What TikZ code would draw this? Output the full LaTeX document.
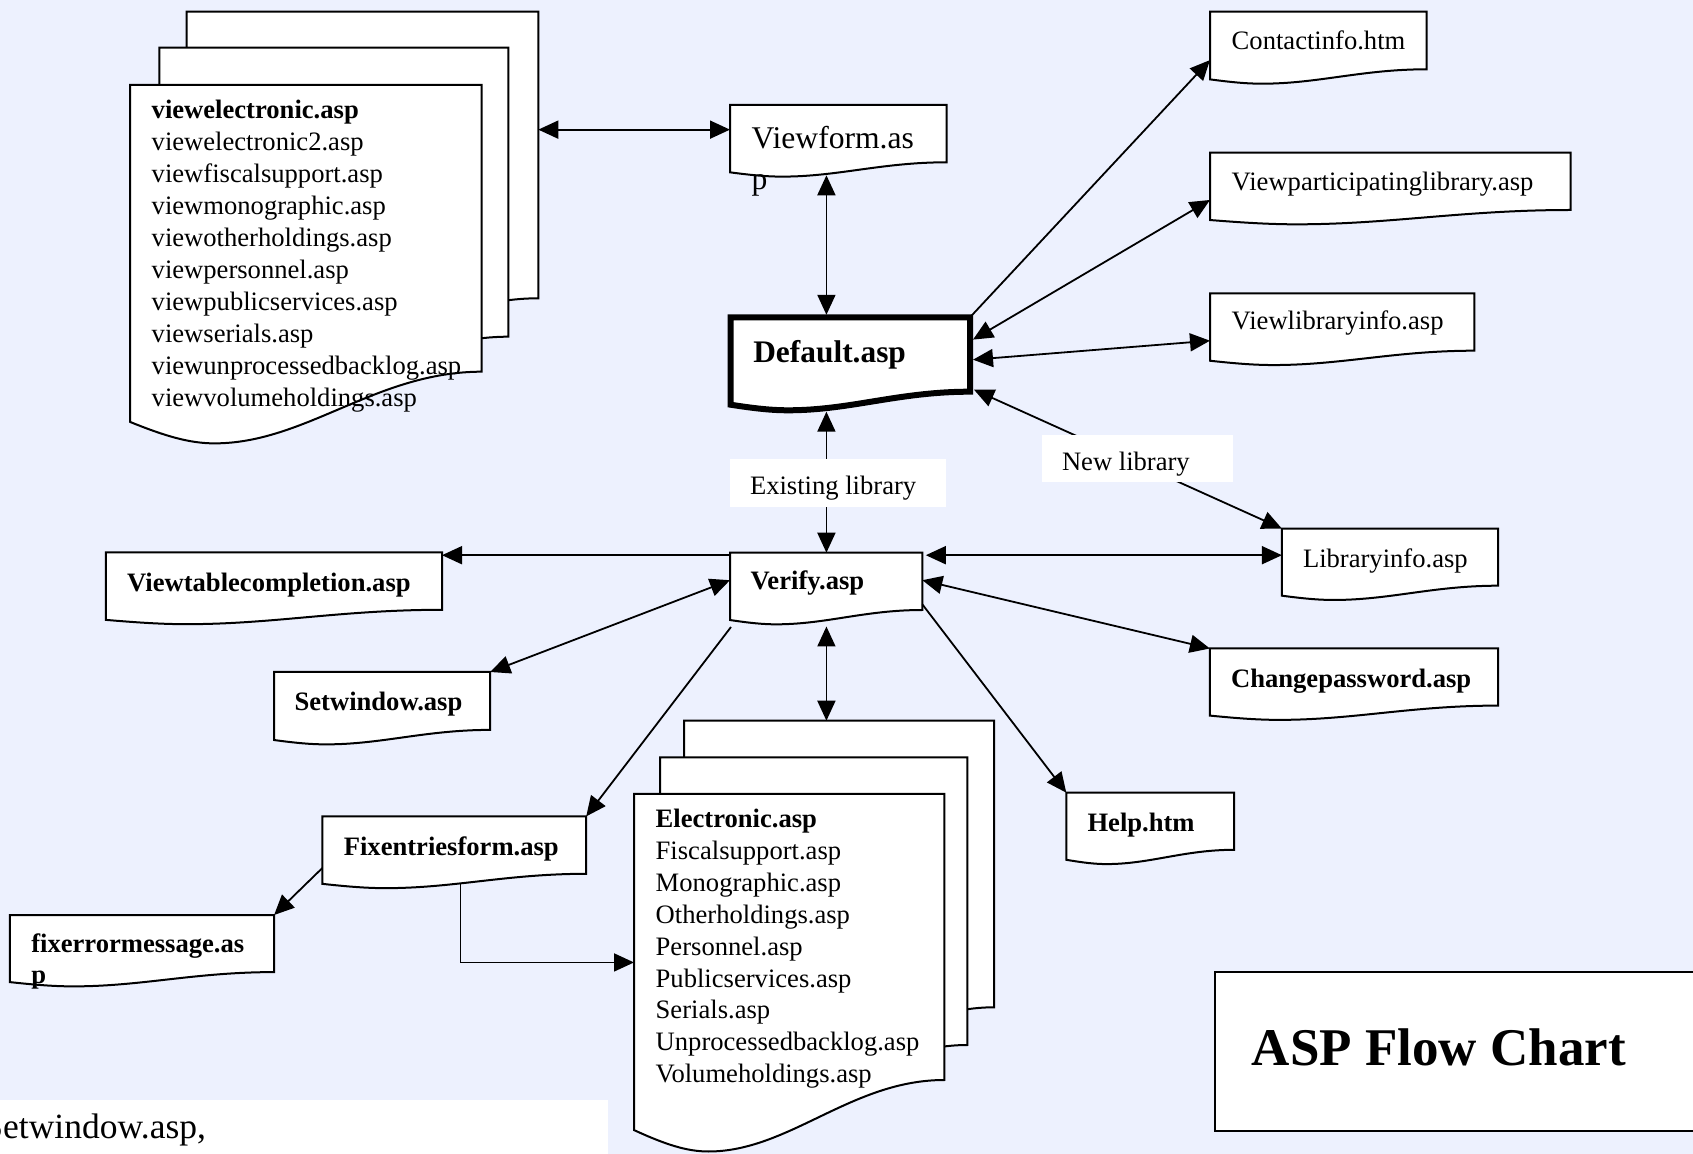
\documentclass[tikz,border=0pt]{standalone}
\usepackage{fontspec}
\setmainfont{Liberation Serif}
\usetikzlibrary{arrows.meta,calc}
\definecolor{bgblue}{RGB}{237,241,254}
\tikzset{
  docline/.style={draw=black, line width=1pt, fill=white, line join=miter},
  thickdoc/.style={line width=3pt},
  tipA/.tip={Triangle[length=10pt,width=9pt]},
  conn/.style={line width=0.9pt, -{tipA}},
  bidir/.style={line width=0.9pt, {tipA}-{tipA}},
  txt/.style={anchor=base west, inner sep=0pt, outer sep=0pt, font=\fontsize{13.3}{16}\selectfont},
  btxt/.style={txt, font=\fontsize{13.3}{16}\selectfont\bfseries},
  lblbox/.style={fill=white, draw=none, inner sep=0pt, outer sep=0pt, anchor=north west},
}
% #1 extra style, #2 name, #3 x, #4 y, #5 width, #6 height of the straight part (px)
\newcommand{\docshape}[6][]{%
  \draw[docline,#1] (#3,#4) -- ({#3+#5},#4) -- ({#3+#5},{#4+#6})
    .. controls ({#3+0.7*#5},{#4+#6}) and ({#3+0.5*#5},{#4+1.25*#6}) .. ({#3+0.24*#5},{#4+1.25*#6})
    .. controls ({#3+0.17*#5},{#4+1.25*#6}) and ({#3+0.1*#5},{#4+1.225*#6}) .. (#3,{#4+1.175*#6}) -- cycle;
  \node[anchor=north west, inner sep=0pt, outer sep=0pt, minimum width={#5*0.5pt}, minimum height={#6*0.5pt}] (#2) at (#3,#4) {};
}
\begin{document}
\begin{tikzpicture}[x=0.5pt,y=-0.5pt]
\useasboundingbox (0,0) rectangle (1693,1154);
\clip (0,0) rectangle (1693,1154);
\fill[bgblue] (0,0) rectangle (1693,1154);

% ---- stacks of documents
\docshape{s1back}{186.7}{11.7}{351.6}{286.6}
\docshape{s1mid}{159.3}{47.7}{349}{289}
\docshape{s1front}{130}{85}{351.7}{286.7}
\docshape{s2back}{684}{720.7}{310}{286.6}
\docshape{s2mid}{660}{757.3}{307.3}{287.7}
\docshape{s2front}{634}{794}{310.3}{286}

% ---- single documents
\docshape{vf}{730}{105}{216.7}{57.3}
\docshape[thickdoc]{def}{730.7}{317.3}{239.3}{74.4}
\docshape{ci}{1210}{11.7}{216.7}{57.6}
\docshape{vpl}{1210}{152.7}{360.7}{57.3}
\docshape{vli}{1210}{293.3}{264.3}{57.4}
\docshape{li}{1281.9}{528.6}{216.1}{57.1}
\docshape{cp}{1209.9}{648.5}{288.1}{57.1}
\docshape{help}{1066.3}{792.7}{167.9}{57.1}
\docshape{ver}{730}{552.7}{192.3}{57.3}
\docshape{vtc}{105.8}{552.3}{336.2}{57.5}
\docshape{sw}{274.1}{672}{216.1}{57.9}
\docshape{fe}{322.3}{816.4}{263.9}{57.4}
\docshape{fem}{9.8}{915}{264.3}{57.1}

% ---- title box and bottom text box
\node[draw=black, line width=1pt, fill=white, inner sep=0pt, outer sep=0pt, anchor=north west,
      minimum width=260pt, minimum height=79.85pt] (titlebox) at (1215.2,971.6) {};
\node[lblbox, minimum width=304.15pt, minimum height=30pt] (botbox) at (0,1100) {};

% ---- texts
\node[txt] (s1text) at (151.7,118.8) {\parbox[t]{200pt}{\fontsize{13.3}{16}\selectfont
  \textbf{viewelectronic.asp}\\viewelectronic2.asp\\viewfiscalsupport.asp\\viewmonographic.asp\\viewotherholdings.asp\\viewpersonnel.asp\\viewpublicservices.asp\\viewserials.asp\\viewunprocessedbacklog.asp\\viewvolumeholdings.asp}};
\node[txt] (s2text) at (655.7,827.5) {\parbox[t]{200pt}{\fontsize{13.3}{15.95}\selectfont
  \textbf{Electronic.asp}\\Fiscalsupport.asp\\Monographic.asp\\Otherholdings.asp\\Personnel.asp\\Publicservices.asp\\Serials.asp\\Unprocessedbacklog.asp\\Volumeholdings.asp}};
\node[txt] (vft) at (751.7,148.5) {\parbox[t]{120pt}{\fontsize{15.8}{20.35}\selectfont Viewform.as\\p}};
\node[btxt, font=\fontsize{15.7}{18}\selectfont\bfseries] (deft) at (753.3,362.2) {Default.asp};
\node[txt] (cit) at (1231.7,49.8) {Contactinfo.htm};
\node[txt] (vplt) at (1231.7,190.8) {Viewparticipatinglibrary.asp};
\node[txt] (vlit) at (1231.7,329.8) {Viewlibraryinfo.asp};
\node[txt] (lit) at (1303,567.5) {Libraryinfo.asp};
\node[btxt] (cpt) at (1231.1,687.4) {Changepassword.asp};
\node[btxt] (helpt) at (1087.5,831.1) {Help.htm};
\node[btxt] (vert) at (750.7,589.8) {Verify.asp};
\node[btxt] (vtct) at (127.2,591.1) {Viewtablecompletion.asp};
\node[btxt] (swt) at (294.6,710.7) {Setwindow.asp};
\node[btxt] (fet) at (343.8,855.1) {Fixentriesform.asp};
\node[txt] (femt) at (31.3,952.2) {\parbox[t]{150pt}{\fontsize{13.3}{15.5}\selectfont\bfseries fixerrormessage.as\\p}};
\node[txt, anchor=base west, font=\fontsize{26.5}{30}\selectfont\bfseries] (titlet) at (1251.9,1065.5) {ASP Flow Chart};
\node[txt, anchor=base east, font=\fontsize{17.75}{20}\selectfont] (bott) at (206,1138.5) {Setwindow.asp,};

% ---- connectors
\coordinate (P) at ($(def.north west)!0.4!(def.north east)$);
\coordinate (vfb) at (P |- vf.south);
\coordinate (defb) at (P |- def.south);
\coordinate (vertop) at (P |- ver.north);
\coordinate (verb) at (P |- ver.south);
\coordinate (s2t) at (P |- s2back.north);
\draw[bidir] ($(P)+(0,-2.5)$) -- ($(vfb)+(0,13)$);
\draw[bidir] ($(defb)+(0,20)$) -- (vertop);
\draw[bidir] ($(verb)+(0,16.5)$) -- (s2t);

\coordinate (vfl) at ($(vf.west)+(0,-4)$);
\draw[bidir] (vfl) -- (vfl -| s1back.east);

\draw[conn] (def.north east) -- ($(ci.north west)!0.84!(ci.south west)$);
\draw[bidir] ($(def.north east)!0.3!(def.south east)+(3,0)$) -- ($(vpl.north west)!0.825!(vpl.south west)$);
\draw[bidir] ($(def.north east)!0.57!(def.south east)+(3,0)$) -- ($(vli.north west)!0.826!(vli.south west)$);
\draw[bidir] ($(def.south east)+(4,-2)$) -- (li.north west);

\coordinate (vr) at ($(ver.north east)+(3.5,2.5)$);
\draw[bidir] (vr) -- (vr -| li.west);
\draw[bidir] ($(ver.north east)!0.48!(ver.south east)$) -- (cp.north west);
\draw[conn] ($(ver.north east)!0.9!(ver.south east)$) -- (help.north west);

\coordinate (vl) at ($(ver.north west)+(0,2.5)$);
\draw[conn] (vl) -- (vl -| vtc.east);
\draw[bidir] ($(ver.north west)!0.48!(ver.south west)$) -- (sw.north east);
\draw[conn] ($(ver.south west)+(1,17)$) -- (fe.north east);

\draw[conn] ($(fe.north west)!0.9!(fe.south west)$) -- (fem.north east);
\coordinate (feb) at ($(fe.south west)!0.524!(fe.south east)+(0,10)$);
\coordinate (elin) at ($(s2front.north west)!0.589!(s2front.south west)$);
\draw[conn] (feb) |- (elin);

% ---- edge labels (drawn over the connectors)
\node[lblbox, minimum width=108pt, minimum height=23.85pt] (exlib) at (730,459) {};
\node[txt] (exlibt) at (750,494.8) {Existing library};
\node[lblbox, minimum width=95.65pt, minimum height=23.75pt] (newlib) at (1042,435) {};
\node[txt] (newlibt) at (1062,470.8) {New library};
\end{tikzpicture}
\end{document}
